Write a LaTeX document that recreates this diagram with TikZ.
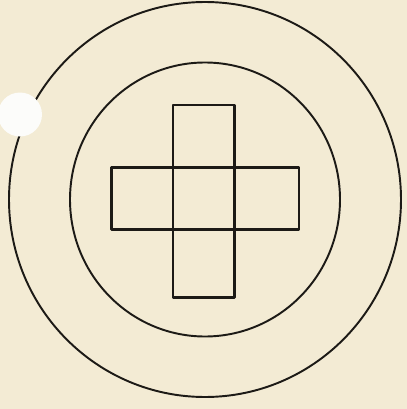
\documentclass[tikz,border=0pt]{standalone}
\definecolor{card}{RGB}{243,235,212}
\definecolor{ink}{RGB}{28,26,22}
\definecolor{hole}{RGB}{252,252,250}
\begin{document}
\begin{tikzpicture}[x=0.01cm, y=-0.01cm, line cap=round, line join=round,
    ring/.style={draw=ink, line width=0.55pt},
    bar/.style={draw=ink, line width=0.7pt}]
  \fill[card] (0,0) rectangle (407,409);
  \useasboundingbox (0,0) rectangle (407,409);
  \coordinate (O) at (205,199.5);
  \draw[ring] (O) ellipse [x radius=196, y radius=197.5];
  \draw[ring] (O) ellipse [x radius=135, y radius=137];
  % the cross
  \draw[bar] (173,105) rectangle (234.5,297.5);
  \draw[bar] (111.5,167.5) rectangle (299,229.5);
  % punched hole
  \fill[hole] (20,114.5) circle [radius=22];
\end{tikzpicture}
\end{document}
